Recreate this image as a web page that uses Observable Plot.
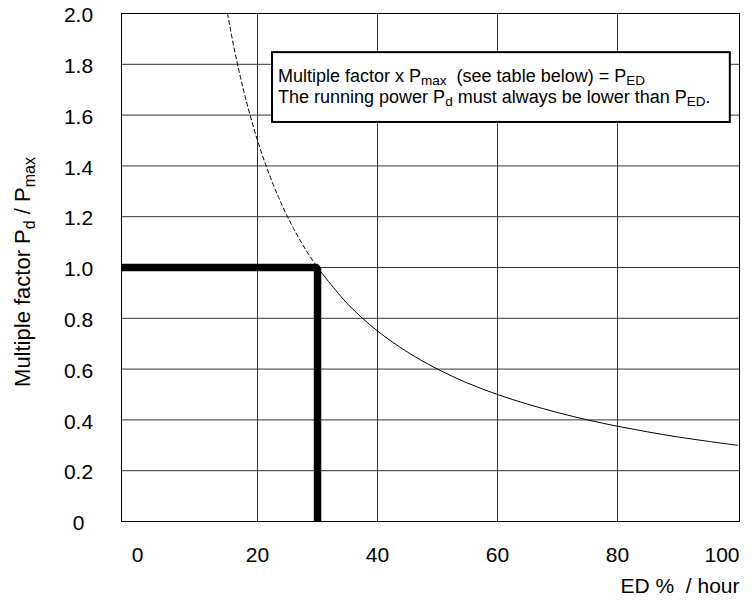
<!DOCTYPE html>
<html><head><meta charset="utf-8">
<script src="https://cdn.jsdelivr.net/npm/d3@7"></script>
<script src="https://cdn.jsdelivr.net/npm/@observablehq/plot@0.6"></script>
<style>body{margin:0;background:#fff} svg{display:block}</style>
</head><body><div id="chart"></div>
<script>
// Extrapolated (dashed) part of the curve
const dashedED = [15, 16, 17, 18, 20, 22, 24, 26, 28, 30];
const dashedFactor = [2.0, 1.875, 1.765, 1.667, 1.5, 1.364, 1.25, 1.154, 1.071, 1.0];
// Valid (solid) part of the curve
const solidED = [30, 35, 40, 45, 50, 55, 60, 65, 70, 75, 80, 85, 90, 95, 100];
const solidFactor = [1.0, 0.857, 0.75, 0.667, 0.6, 0.545, 0.5, 0.462, 0.429, 0.4, 0.375, 0.353, 0.333, 0.316, 0.3];
// Limit (thick line)
const limitED = 30;
const limitFactor = 1.0;
// Ticks / labels
const xTicks = [0, 20, 40, 60, 80];
const xTickLast = [100];
const xGrid = [20, 40, 60, 80];
const yTicks = [0, 0.2, 0.4, 0.6, 0.8, 1.0, 1.2, 1.4, 1.6, 1.8, 2.0];
const yGrid = [0.2, 0.4, 0.6, 0.8, 1.0, 1.2, 1.4, 1.6, 1.8];
const xLabel = "ED %  / hour";
const yLabelParts = [["Multiple factor P", false], ["d", true], [" / P", false], ["max", true]];
const noteLine1 = [["Multiple factor x P", false], ["max", true], ["  (see table below) = P", false], ["ED", true]];
const noteLine2 = [["The running power P", false], ["d", true], [" must always be lower than P", false], ["ED", true], [".", false]];

const xDomain = [-2.67, 100.33];
const dashed = dashedED.map((x, i) => ({x, y: dashedFactor[i]}));
const solid = solidED.map((x, i) => ({x, y: solidFactor[i]}));
const limit = [{x: xDomain[0], y: limitFactor}, {x: limitED, y: limitFactor}, {x: limitED, y: 0}];
const FONT = "'Liberation Sans', Arial, Helvetica, sans-serif";

const chart = Plot.plot({
  width: 752, height: 610,
  marginLeft: 121, marginRight: 13, marginTop: 13, marginBottom: 89,
  style: {fontFamily: FONT, background: "#fff", color: "#000"},
  x: {domain: xDomain},
  y: {domain: [0, 2.0]},
  marks: [
    Plot.ruleX(xGrid, {stroke: "#333", strokeWidth: 1}),
    Plot.ruleY(yGrid, {stroke: "#333", strokeWidth: 1}),
    Plot.line(dashed, {x: "x", y: "y", curve: "catmull-rom", stroke: "#000", strokeWidth: 1, strokeDasharray: "4,3"}),
    Plot.line(solid, {x: "x", y: "y", curve: "catmull-rom", stroke: "#000", strokeWidth: 1}),
    Plot.line(limit, {x: "x", y: "y", stroke: "#000", strokeWidth: 7.5, strokeLinejoin: "miter", strokeLinecap: "butt"}),
    Plot.rect([0], {x1: 22.5, x2: 98.8, y1: 1.571, y2: 1.846, fill: "#fff", stroke: "#000", strokeWidth: 2}),
    Plot.frame({stroke: "#000", strokeWidth: 1}),
    Plot.axisX(xTicks, {anchor: "bottom", tickSize: 0, tickPadding: 26, fontSize: 21, tickFormat: d => String(d), label: null}),
    Plot.axisX(xTickLast, {anchor: "bottom", tickSize: 0, tickPadding: 26, fontSize: 21, textAnchor: "end", dx: 2, tickFormat: d => String(d), label: null}),
    Plot.axisY(yTicks, {anchor: "left", tickSize: 0, tickPadding: 43, fontSize: 21, textAnchor: "middle", dy: 2, label: null,
      tickFormat: d => d === 0 ? "0" : d.toFixed(1)}),
    Plot.text([xLabel], {text: d => d, frameAnchor: "bottom-right", textAnchor: "end", dy: 71, fontSize: 21})
  ]
});
document.getElementById("chart").appendChild(chart);

const svg = d3.select(chart);
const sx = chart.scale("x"), sy = chart.scale("y");

// Appends a rich-text line (text with subscripts) as its own text element
function richText(parent, x, y, parts, size, subSize, shift) {
  const t = parent.append("text").attr("x", x).attr("y", y)
    .attr("text-anchor", "start").attr("font-family", FONT)
    .attr("font-size", size).attr("fill", "#000").style("white-space", "pre");
  let cur = 0;
  parts.forEach(([s, sub]) => {
    const ts = t.append("tspan").text(s);
    const target = sub ? shift : 0;
    if (sub) ts.attr("font-size", subSize);
    if (target !== cur) ts.attr("dy", target - cur);
    cur = target;
  });
  return t;
}

// Annotation text
const bx = sx.apply(22.5), by = sy.apply(1.846);
richText(svg, bx + 6, by + 29.5, noteLine1, 18, 13.5, 3.5);
richText(svg, bx + 6, by + 50.5, noteLine2, 18, 13.5, 3.5);

// Y axis title
const cy = (sy.apply(0) + sy.apply(2)) / 2 + 5;
richText(svg, 0, 0, yLabelParts, 22, 16, 5)
  .attr("text-anchor", "middle")
  .attr("transform", `translate(30,${cy}) rotate(-90)`);
</script></body></html>
